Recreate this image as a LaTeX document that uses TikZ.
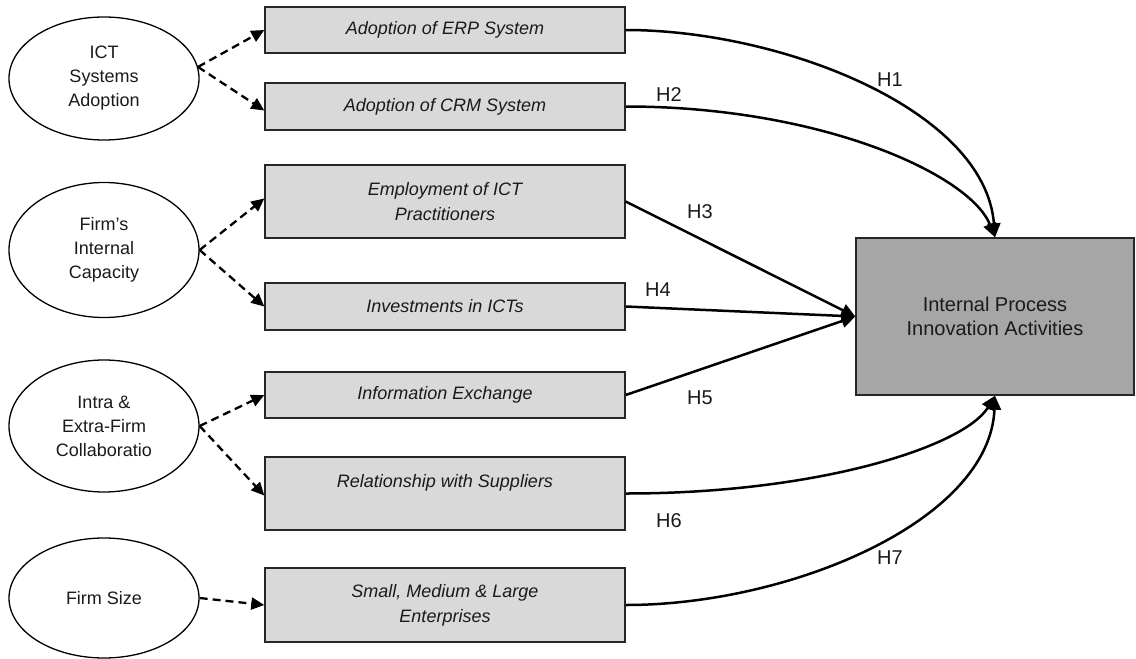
\documentclass[tikz,border=0pt]{standalone}
\usepackage{fontspec}
\setmainfont{Liberation Sans}
\usetikzlibrary{arrows.meta,shapes.geometric}
\definecolor{boxfill}{HTML}{D9D9D9}
\definecolor{tgtfill}{HTML}{A6A6A6}
\definecolor{txt}{HTML}{1A1A1A}
\begin{document}
\begin{tikzpicture}[x=1pt,y=-1pt,
  lat/.style={draw=black,line width=1.3pt,ellipse,minimum width=190pt,inner sep=0pt,align=center,
    text=txt,font=\fontsize{18}{24}\selectfont},
  ind/.style={draw=black!85,line width=1.4pt,fill=boxfill,rectangle,minimum width=360pt,inner sep=0pt,
    align=center,text=txt,font=\fontsize{18}{25}\selectfont\itshape},
  tgt/.style={draw=black!85,line width=1.4pt,fill=tgtfill,rectangle,minimum width=278pt,minimum height=157pt,
    align=center,text=txt,font=\fontsize{20}{24}\selectfont},
  hlab/.style={text=txt,font=\fontsize{20}{24}\selectfont,inner sep=0pt},
  dasharrow/.style={line width=2.3pt,dash pattern=on 8pt off 5pt,-{Triangle[length=13pt,width=12pt]}},
  hyp/.style={line width=2.5pt,-{Triangle[length=14pt,width=13pt]}}
]
\useasboundingbox (0,0) rectangle (1136,659);

% latent constructs
\node[lat,minimum height=123pt] (E1) at (104,78.5) {ICT\\Systems\\Adoption};
\node[lat,minimum height=135pt] (E2) at (104,250) {Firm’s\\Internal\\Capacity};
\node[lat,minimum height=132pt] (E3) at (104,426) {Intra \&\\Extra-Firm\\Collaboratio};
\node[lat,minimum height=120pt] (E4) at (104,598) {Firm Size};

% indicators
\node[ind,minimum height=46pt] (ERP) at (445,30) {Adoption of ERP System};
\node[ind,minimum height=47pt] (CRM) at (445,106.5) {Adoption of CRM System};
\node[ind,minimum height=73pt] (EMP) at (445,201.5) {Employment of ICT\\Practitioners};
\node[ind,minimum height=47pt] (INV) at (445,306.5) {Investments in ICTs};
\node[ind,minimum height=46pt] (INF) at (445,395) {Information Exchange};
\node[ind,minimum height=73pt] (REL) at (445,493.5) {Relationship with Suppliers\\\mbox{}};
\node[ind,minimum height=74pt] (SML) at (445,605) {Small, Medium \& Large\\Enterprises};

% target
\node[tgt] (T) at (995,316.5) {Internal Process\\Innovation Activities};

% dashed measurement arrows
\coordinate (o1) at (E1.7);
\draw[dasharrow] (o1) -- (ERP.west);
\draw[dasharrow] (o1) -- ([yshift=-4pt]CRM.west);
\draw[dasharrow] (E2.east) -- ([yshift=3pt]EMP.west);
\draw[dasharrow] (E2.east) -- (INV.west);
\draw[dasharrow] (E3.east) -- (INF.west);
\draw[dasharrow] (E3.east) -- ([yshift=-2pt]REL.west);
\draw[dasharrow] (E4.east) -- (SML.west);

% hypotheses
\draw[hyp] (ERP.east) .. controls +(155,0) and +(-10,-128) .. (T.north);
\draw[hyp] (CRM.east) .. controls +(195,0) and +(-25,-63) .. (T.north);
\draw[hyp] (EMP.east) -- (T.west);
\draw[hyp] (INV.east) -- (T.west);
\draw[hyp] (INF.east) -- (T.west);
\draw[hyp] (REL.east) .. controls +(195,0) and +(-30,50) .. (T.south);
\draw[hyp] (SML.east) .. controls +(165,0) and +(-5,125) .. (T.south);

% labels
\node[hlab] (h1) at (890,80) {H1};
\node[hlab] (h2) at (669,95) {H2};
\node[hlab] (h3) at (700,212) {H3};
\node[hlab] (h4) at (658,290) {H4};
\node[hlab] (h5) at (700,398) {H5};
\node[hlab] (h6) at (669,521) {H6};
\node[hlab] (h7) at (890,558) {H7};
\end{tikzpicture}
\end{document}
